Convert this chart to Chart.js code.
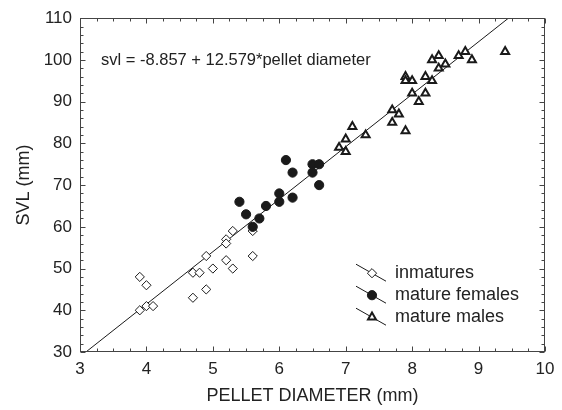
<!DOCTYPE html>
<html><head><meta charset="utf-8">
<style>html,body{margin:0;padding:0;background:#fff;}#wrap{width:562px;height:410px;}</style>
<script src="https://cdn.jsdelivr.net/npm/chart.js@4.4.1/dist/chart.umd.min.js"></script>
</head><body><div id="wrap"><canvas id="c" width="562" height="410"></canvas></div>
<script>
// ---- data ----
const inmaturesX = [3.9, 4.0, 4.1, 3.9, 4.0, 4.7, 4.8, 4.9, 5.0, 4.7, 4.9, 5.2, 5.2, 5.3, 5.2, 5.3, 5.6, 5.6];
const inmaturesY = [40, 41, 41, 48, 46, 49, 49, 53, 50, 43, 45, 57, 56, 59, 52, 50, 59, 53];
const femalesX = [5.4, 5.5, 5.6, 5.7, 5.8, 6.0, 6.0, 6.1, 6.2, 6.2, 6.5, 6.6, 6.5, 6.6];
const femalesY = [66, 63, 60, 62, 65, 68, 66, 76, 73, 67, 75, 75, 73, 70];
const malesX = [6.9, 7.0, 7.0, 7.1, 7.3, 7.7, 7.8, 7.7, 7.9, 7.9, 7.9, 8.0, 8.0, 8.1, 8.2, 8.2, 8.3, 8.3, 8.4, 8.4, 8.5, 8.7, 8.8, 8.9, 9.4];
const malesY = [79, 81, 78, 84, 82, 88, 87, 85, 83, 96, 95, 95, 92, 90, 92, 96, 100, 95, 101, 98, 99, 101, 102, 100, 102];
const xTicks = [3, 4, 5, 6, 7, 8, 9, 10];
const yTicks = [30, 40, 50, 60, 70, 80, 90, 100, 110];
const xMinorStep = 0.25;
const yMinorStep = 2;
const intercept = -8.857;
const slope = 12.579;
const lineX = [3, 10];
const seriesNames = ['inmatures', 'mature females', 'mature males'];
const equationText = 'svl = -8.857 + 12.579*pellet diameter';
const xTitle = 'PELLET DIAMETER (mm)';
const yTitle = 'SVL (mm)';

// ---- styles ----
const FONT = '"Liberation Sans", Arial, Helvetica, sans-serif';
const INK = '#1a1a1a';
const styles = [
  {pointStyle: 'rectRot', radius: 4.6, backgroundColor: '#fff', borderColor: INK, borderWidth: 1},
  {pointStyle: 'circle', radius: 4.6, backgroundColor: INK, borderColor: INK, borderWidth: 1},
  {pointStyle: 'triangle', radius: 4.6, backgroundColor: '#fff', borderColor: INK, borderWidth: 2}
];

const pts = (xs, ys) => xs.map((x, i) => ({x: x, y: ys[i]}));
function scatterDs(label, data, st, order) {
  return {type: 'scatter', label: label, data: data, order: order,
    pointStyle: st.pointStyle, pointRadius: st.radius, pointHoverRadius: st.radius,
    pointBackgroundColor: st.backgroundColor, pointBorderColor: st.borderColor,
    pointBorderWidth: st.borderWidth, showLine: false};
}

const overlay = {
  id: 'overlay',
  afterDraw(chart) {
    const ctx = chart.ctx, xa = chart.scales.x, ya = chart.scales.y;
    const a = chart.chartArea;
    const L = Math.round(a.left) + 0.5, R = Math.round(a.right) - 0.5;
    const T = Math.round(a.top) + 0.5, B = Math.round(a.bottom) - 0.5;
    ctx.save();
    ctx.strokeStyle = '#444'; ctx.lineWidth = 1;
    ctx.strokeRect(L, T, R - L, B - T);
    ctx.beginPath();
    const xmin = xTicks[0], xmax = xTicks[xTicks.length - 1];
    for (let k = 0; xmin + k * xMinorStep <= xmax + 1e-9; k++) {
      const v = xmin + k * xMinorStep;
      const major = xTicks.some(t => Math.abs(t - v) < 1e-9);
      const len = major ? 5 : 3;
      const px = Math.round(xa.getPixelForValue(v)) + 0.5;
      ctx.moveTo(px, B); ctx.lineTo(px, B - len);
      ctx.moveTo(px, T); ctx.lineTo(px, T + len);
    }
    const ymin = yTicks[0], ymax = yTicks[yTicks.length - 1];
    for (let k = 0; ymin + k * yMinorStep <= ymax + 1e-9; k++) {
      const v = ymin + k * yMinorStep;
      const major = yTicks.some(t => Math.abs(t - v) < 1e-9);
      const len = major ? 5 : 3;
      const py = Math.round(ya.getPixelForValue(v)) + 0.5;
      ctx.moveTo(L, py); ctx.lineTo(L + len, py);
      ctx.moveTo(R, py); ctx.lineTo(R - len, py);
    }
    ctx.stroke();

    // equation
    ctx.fillStyle = '#222';
    ctx.font = '16.5px ' + FONT;
    ctx.textBaseline = 'middle'; ctx.textAlign = 'left';
    ctx.fillText(equationText, a.left + 21, a.top + 42);

    // legend
    const lx = a.left + 292, ly0 = a.top + 255, dy = 22;
    ctx.font = '18px ' + FONT;
    seriesNames.forEach((name, i) => {
      const cy = ly0 + i * dy;
      ctx.beginPath();
      ctx.strokeStyle = INK; ctx.lineWidth = 1;
      ctx.moveTo(lx - 16, cy - 9); ctx.lineTo(lx + 14, cy + 8);
      ctx.stroke();
      const st = styles[i];
      ctx.fillStyle = st.backgroundColor; ctx.strokeStyle = st.borderColor; ctx.lineWidth = st.borderWidth;
      Chart.helpers.drawPoint(ctx, {pointStyle: st.pointStyle, radius: st.radius, borderWidth: st.borderWidth, rotation: 0}, lx, cy);
      ctx.fillStyle = '#222';
      ctx.fillText(name, lx + 23, cy);
    });
    ctx.restore();
  }
};

new Chart(document.getElementById('c'), {
  data: {
    datasets: [
      {type: 'line', label: 'fit', data: lineX.map(x => ({x: x, y: intercept + slope * x})),
        borderColor: INK, borderWidth: 1, pointRadius: 0, fill: false, order: 4},
      scatterDs(seriesNames[0], pts(inmaturesX, inmaturesY), styles[0], 3),
      scatterDs(seriesNames[2], pts(malesX, malesY), styles[2], 2),
      scatterDs(seriesNames[1], pts(femalesX, femalesY), styles[1], 1)
    ]
  },
  options: {
    responsive: false, animation: false, devicePixelRatio: 1,
    layout: {padding: {top: 18, right: 17, left: 0, bottom: 0}},
    plugins: {legend: {display: false}, tooltip: {enabled: false}},
    scales: {
      x: {type: 'linear', min: xTicks[0], max: xTicks[xTicks.length - 1],
        afterBuildTicks: s => { s.ticks = xTicks.map(v => ({value: v})); },
        afterFit: s => { s.height = 58; },
        ticks: {font: {size: 17, family: FONT}, color: '#222', padding: 7, maxRotation: 0, autoSkip: false},
        grid: {display: false, drawTicks: false}, border: {display: false},
        title: {display: true, text: xTitle, color: '#222', font: {size: 18, family: FONT}, padding: {top: 0, bottom: 3}}},
      y: {type: 'linear', min: yTicks[0], max: yTicks[yTicks.length - 1],
        afterBuildTicks: s => { s.ticks = yTicks.map(v => ({value: v})); },
        afterFit: s => { s.width = 80; },
        ticks: {font: {size: 17, family: FONT}, color: '#222', padding: 8, autoSkip: false},
        grid: {display: false, drawTicks: false}, border: {display: false},
        title: {display: true, text: yTitle, color: '#222', font: {size: 18, family: FONT}, padding: {top: 13, bottom: 0}}}
    }
  },
  plugins: [overlay]
});
</script></body></html>
